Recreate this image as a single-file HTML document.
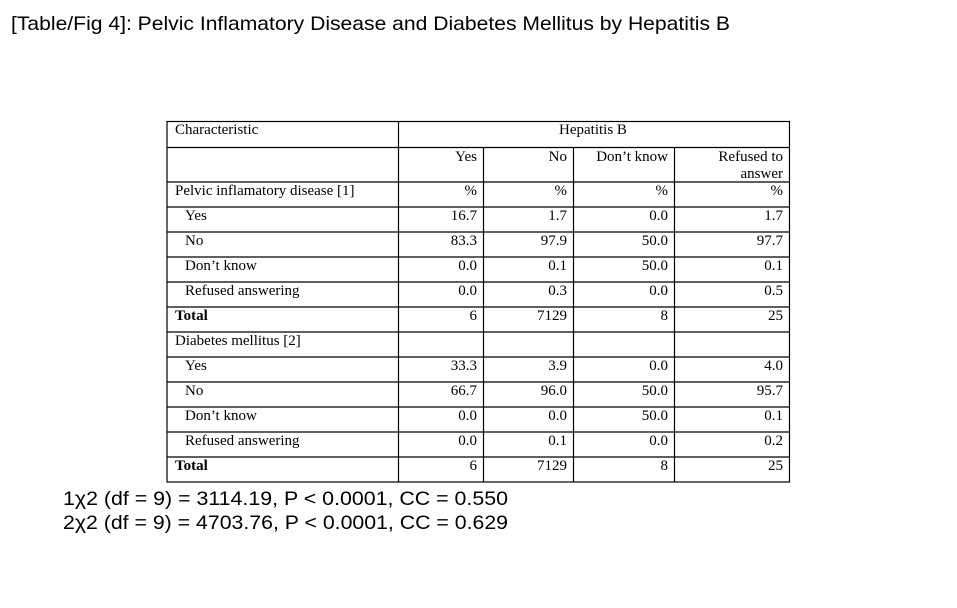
<!DOCTYPE html>
<html><head><meta charset="utf-8"><style>
html,body{margin:0;padding:0;background:#fff;}
svg{display:block;}
.a{font-family:"Liberation Sans",Arial,sans-serif;fill:#000;}
.t{font-family:"Liberation Serif","Times New Roman",serif;font-size:15px;fill:#000;}
</style></head><body>
<svg width="957" height="608" viewBox="0 0 957 608" xmlns="http://www.w3.org/2000/svg">
<rect width="957" height="608" fill="#fff"/>
<text class="a" x="11" y="30" font-size="19.5" textLength="719" lengthAdjust="spacingAndGlyphs">[Table/Fig 4]: Pelvic Inflamatory Disease and Diabetes Mellitus by Hepatitis B</text>
<g stroke="#000" stroke-width="1.2" fill="none">
<rect x="167" y="121.5" width="622.5" height="360.5"/>
<line x1="398.5" y1="121.5" x2="398.5" y2="482"/>
<line x1="483.5" y1="147.5" x2="483.5" y2="482"/>
<line x1="573.5" y1="147.5" x2="573.5" y2="482"/>
<line x1="674.5" y1="147.5" x2="674.5" y2="482"/>
<line x1="167" y1="147.5" x2="789.5" y2="147.5"/>
<line x1="167" y1="182" x2="789.5" y2="182"/>
<line x1="167" y1="207" x2="789.5" y2="207"/>
<line x1="167" y1="232" x2="789.5" y2="232"/>
<line x1="167" y1="257" x2="789.5" y2="257"/>
<line x1="167" y1="282" x2="789.5" y2="282"/>
<line x1="167" y1="307" x2="789.5" y2="307"/>
<line x1="167" y1="332" x2="789.5" y2="332"/>
<line x1="167" y1="357" x2="789.5" y2="357"/>
<line x1="167" y1="382" x2="789.5" y2="382"/>
<line x1="167" y1="407" x2="789.5" y2="407"/>
<line x1="167" y1="432" x2="789.5" y2="432"/>
<line x1="167" y1="457" x2="789.5" y2="457"/>
</g>
<g class="t">
<text x="175" y="134">Characteristic</text>
<text x="593" y="134" text-anchor="middle">Hepatitis B</text>
<text x="477" y="161" text-anchor="end">Yes</text>
<text x="567" y="161" text-anchor="end">No</text>
<text x="668" y="161" text-anchor="end">Don’t know</text>
<text x="783" y="161" text-anchor="end">Refused to</text>
<text x="783" y="178" text-anchor="end">answer</text>
<text x="175" y="195">Pelvic inflamatory disease [1]</text>
<text x="477" y="195" text-anchor="end">%</text>
<text x="567" y="195" text-anchor="end">%</text>
<text x="668" y="195" text-anchor="end">%</text>
<text x="783" y="195" text-anchor="end">%</text>
</g>
<g class="t">
<text x="185" y="220">Yes</text><text x="477" y="220" text-anchor="end">16.7</text><text x="567" y="220" text-anchor="end">1.7</text><text x="668" y="220" text-anchor="end">0.0</text><text x="783" y="220" text-anchor="end">1.7</text>
<text x="185" y="245">No</text><text x="477" y="245" text-anchor="end">83.3</text><text x="567" y="245" text-anchor="end">97.9</text><text x="668" y="245" text-anchor="end">50.0</text><text x="783" y="245" text-anchor="end">97.7</text>
<text x="185" y="270">Don’t know</text><text x="477" y="270" text-anchor="end">0.0</text><text x="567" y="270" text-anchor="end">0.1</text><text x="668" y="270" text-anchor="end">50.0</text><text x="783" y="270" text-anchor="end">0.1</text>
<text x="185" y="295">Refused answering</text><text x="477" y="295" text-anchor="end">0.0</text><text x="567" y="295" text-anchor="end">0.3</text><text x="668" y="295" text-anchor="end">0.0</text><text x="783" y="295" text-anchor="end">0.5</text>
<text x="175" y="320" font-weight="bold">Total</text><text x="477" y="320" text-anchor="end">6</text><text x="567" y="320" text-anchor="end">7129</text><text x="668" y="320" text-anchor="end">8</text><text x="783" y="320" text-anchor="end">25</text>
<text x="175" y="345">Diabetes mellitus [2]</text>
<text x="185" y="370">Yes</text><text x="477" y="370" text-anchor="end">33.3</text><text x="567" y="370" text-anchor="end">3.9</text><text x="668" y="370" text-anchor="end">0.0</text><text x="783" y="370" text-anchor="end">4.0</text>
<text x="185" y="395">No</text><text x="477" y="395" text-anchor="end">66.7</text><text x="567" y="395" text-anchor="end">96.0</text><text x="668" y="395" text-anchor="end">50.0</text><text x="783" y="395" text-anchor="end">95.7</text>
<text x="185" y="420">Don’t know</text><text x="477" y="420" text-anchor="end">0.0</text><text x="567" y="420" text-anchor="end">0.0</text><text x="668" y="420" text-anchor="end">50.0</text><text x="783" y="420" text-anchor="end">0.1</text>
<text x="185" y="445">Refused answering</text><text x="477" y="445" text-anchor="end">0.0</text><text x="567" y="445" text-anchor="end">0.1</text><text x="668" y="445" text-anchor="end">0.0</text><text x="783" y="445" text-anchor="end">0.2</text>
<text x="175" y="470" font-weight="bold">Total</text><text x="477" y="470" text-anchor="end">6</text><text x="567" y="470" text-anchor="end">7129</text><text x="668" y="470" text-anchor="end">8</text><text x="783" y="470" text-anchor="end">25</text>
</g>
<text class="a" x="63" y="505" font-size="19.5" textLength="445" lengthAdjust="spacingAndGlyphs">1χ2 (df = 9) = 3114.19, P &lt; 0.0001, CC = 0.550</text>
<text class="a" x="63" y="529" font-size="19.5" textLength="445" lengthAdjust="spacingAndGlyphs">2χ2 (df = 9) = 4703.76, P &lt; 0.0001, CC = 0.629</text>
</svg>
</body></html>
